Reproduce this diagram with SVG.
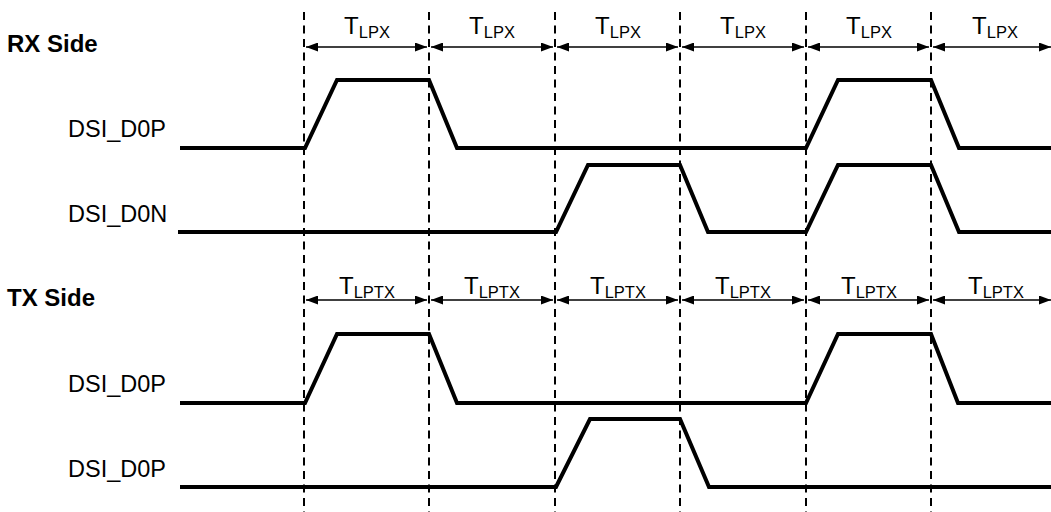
<svg xmlns="http://www.w3.org/2000/svg" width="1051" height="512" viewBox="0 0 1051 512">
  <defs>
    <style>
      .lbl { font-family: "Liberation Sans", Arial, sans-serif; fill: #000; }
      .side { font-size: 24px; font-weight: bold; }
      .sig { font-size: 23.5px; }
      .t { font-size: 24px; }
      .sub { font-size: 16.5px; }
      .grid { stroke: #000; stroke-width: 2; stroke-dasharray: 8 5.5; fill: none; }
      .wave { stroke: #000; stroke-width: 4; fill: none; stroke-linejoin: miter; }
      .dim { stroke: #000; stroke-width: 1.6; fill: none; marker-start: url(#ah); marker-end: url(#ah); }
    </style>
    <marker id="ah" viewBox="0 0 12 9" refX="12" refY="4.5" markerWidth="12" markerHeight="9" markerUnits="userSpaceOnUse" orient="auto-start-reverse">
      <path d="M0,0 L12,4.5 L0,9 Z" fill="#000"/>
    </marker>
  </defs>
  <rect width="1051" height="512" fill="#fff"/>

  <g id="gridlines">
    <line class="grid" x1="304" y1="12" x2="304" y2="512"/>
    <line class="grid" x1="429" y1="12" x2="429" y2="512"/>
    <line class="grid" x1="555" y1="12" x2="555" y2="512"/>
    <line class="grid" x1="680" y1="12" x2="680" y2="512"/>
    <line class="grid" x1="806" y1="12" x2="806" y2="512"/>
    <line class="grid" x1="931" y1="12" x2="931" y2="512"/>
  </g>

  <g id="connectors">
    <line class="dim" x1="306" y1="47" x2="427" y2="47"/>
    <line class="dim" x1="431" y1="47" x2="553" y2="47"/>
    <line class="dim" x1="557" y1="47" x2="678" y2="47"/>
    <line class="dim" x1="682" y1="47" x2="804" y2="47"/>
    <line class="dim" x1="808" y1="47" x2="929" y2="47"/>
    <line class="dim" x1="933" y1="47" x2="1051" y2="47"/>

    <line class="dim" x1="306" y1="300" x2="427" y2="300"/>
    <line class="dim" x1="431" y1="300" x2="553" y2="300"/>
    <line class="dim" x1="557" y1="300" x2="678" y2="300"/>
    <line class="dim" x1="682" y1="300" x2="804" y2="300"/>
    <line class="dim" x1="808" y1="300" x2="929" y2="300"/>
    <line class="dim" x1="933" y1="300" x2="1051" y2="300"/>
  </g>

  <g id="rx-labels">
    <text class="lbl t" x="367" y="33.5" text-anchor="middle">T<tspan class="sub" dy="4">LPX</tspan></text>
    <text class="lbl t" x="492" y="33.5" text-anchor="middle">T<tspan class="sub" dy="4">LPX</tspan></text>
    <text class="lbl t" x="618" y="33.5" text-anchor="middle">T<tspan class="sub" dy="4">LPX</tspan></text>
    <text class="lbl t" x="743" y="33.5" text-anchor="middle">T<tspan class="sub" dy="4">LPX</tspan></text>
    <text class="lbl t" x="869" y="33.5" text-anchor="middle">T<tspan class="sub" dy="4">LPX</tspan></text>
    <text class="lbl t" x="995" y="33.5" text-anchor="middle">T<tspan class="sub" dy="4">LPX</tspan></text>
  </g>

  <g id="tx-labels">
    <text class="lbl t" x="367" y="293.5" text-anchor="middle">T<tspan class="sub" dy="4">LPTX</tspan></text>
    <text class="lbl t" x="492" y="293.5" text-anchor="middle">T<tspan class="sub" dy="4">LPTX</tspan></text>
    <text class="lbl t" x="618" y="293.5" text-anchor="middle">T<tspan class="sub" dy="4">LPTX</tspan></text>
    <text class="lbl t" x="743" y="293.5" text-anchor="middle">T<tspan class="sub" dy="4">LPTX</tspan></text>
    <text class="lbl t" x="869" y="293.5" text-anchor="middle">T<tspan class="sub" dy="4">LPTX</tspan></text>
    <text class="lbl t" x="996" y="293.5" text-anchor="middle">T<tspan class="sub" dy="4">LPTX</tspan></text>
  </g>

  <g id="side-titles">
    <text class="lbl side" x="7" y="51.5">RX Side</text>
    <text class="lbl side" x="7" y="306">TX Side</text>
  </g>

  <g id="rx-d0p">
    <text class="lbl sig" x="68" y="137">DSI_D0P</text>
    <path class="wave" d="M180,148 H305 L337,80 H429 L457,148 H806 L838,80 H931 L959,148 H1051"/>
  </g>
  <g id="rx-d0n">
    <text class="lbl sig" x="68" y="222">DSI_D0N</text>
    <path class="wave" d="M178,232 H556 L588,165 H680 L708,232 H806 L838,165 H931 L959,232 H1051"/>
  </g>
  <g id="tx-d0p">
    <text class="lbl sig" x="68" y="391.5">DSI_D0P</text>
    <path class="wave" d="M180,403 H305 L337,334 H429 L457,403 H806 L838,334 H931 L958,403 H1051"/>
  </g>
  <g id="tx-d0p-2">
    <text class="lbl sig" x="68" y="477">DSI_D0P</text>
    <path class="wave" d="M180,487 H556 L590,419 H680 L709,487 H1051"/>
  </g>
</svg>
